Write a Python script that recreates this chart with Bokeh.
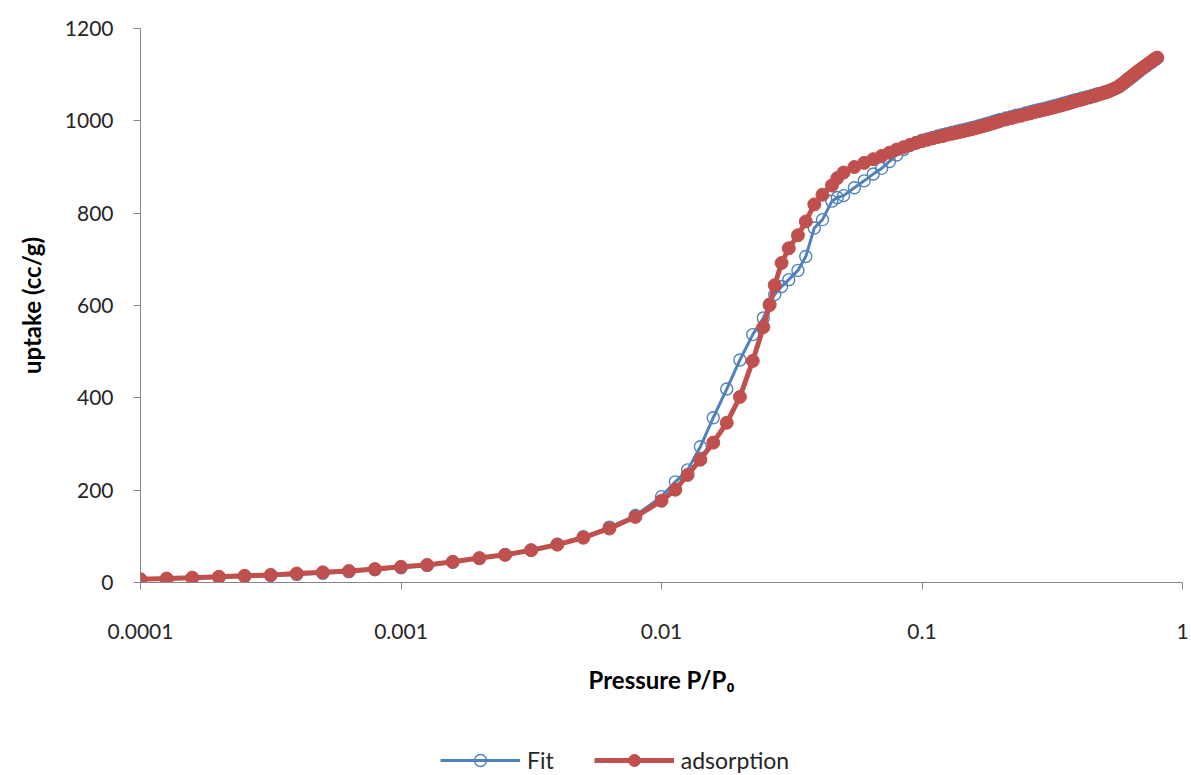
from bokeh.plotting import figure
from bokeh.layouts import column
from bokeh.models import Range1d, FixedTicker, CustomJSTickFormatter, Legend, LegendItem, ColumnDataSource
from bokeh.embed import file_html
from bokeh.resources import INLINE

# Relative pressure P/P0
pressure = [
    0.0001, 0.000126, 0.000158, 0.0002, 0.000251, 0.000316, 0.000398, 0.000501, 0.000631, 0.000794,
    0.001, 0.00126, 0.00158, 0.002, 0.00251, 0.00316, 0.00398, 0.00501, 0.00631, 0.00794, 0.01,
    0.0113, 0.0126, 0.0141, 0.0158, 0.0178, 0.0200, 0.0224, 0.0246, 0.0260, 0.0272, 0.0289, 0.0308,
    0.0334, 0.0358, 0.0386, 0.0415, 0.0451, 0.0473,
    0.050, 0.055, 0.060, 0.065, 0.070, 0.075, 0.080, 0.085, 0.090, 0.095, 0.100,
    0.105, 0.110, 0.115, 0.120, 0.125, 0.130, 0.135, 0.140, 0.145, 0.150,
    0.155, 0.160, 0.165, 0.170, 0.175, 0.180, 0.185, 0.190, 0.195, 0.200,
    0.21, 0.22, 0.23, 0.24, 0.25, 0.26, 0.27, 0.28, 0.29, 0.30,
    0.31, 0.32, 0.33, 0.34, 0.35, 0.36, 0.37, 0.38, 0.39, 0.40,
    0.41, 0.42, 0.43, 0.44, 0.45, 0.46, 0.47, 0.48, 0.49, 0.50,
    0.51, 0.52, 0.53, 0.54, 0.55, 0.56, 0.57, 0.58, 0.59, 0.60,
    0.61, 0.62, 0.63, 0.64, 0.65, 0.66, 0.67, 0.68, 0.69, 0.70,
    0.71, 0.72, 0.73, 0.74, 0.75, 0.76, 0.77, 0.78, 0.79, 0.80,
]

# Measured adsorption uptake (cc/g)
adsorption = [
    7, 8.5, 10.5, 12.5, 14.5, 16.5, 19.5, 22, 25, 29,
    34, 38, 45, 53, 60, 70, 82, 97, 117, 142, 177,
    201, 233, 266, 303, 346, 402, 480, 553, 601, 644, 692, 724,
    752, 782, 819, 840, 860, 876,
    888, 900, 909, 917, 924, 931, 938, 943, 948, 952, 956,
    959, 962, 965, 967, 970, 972, 974, 976, 978, 980,
    982, 984, 986, 988, 990, 992, 994, 996, 998, 1000,
    1003, 1006, 1009, 1011, 1014, 1016, 1019, 1021, 1023, 1025,
    1027, 1029, 1031, 1033, 1035, 1037, 1039, 1041, 1043, 1045,
    1046, 1048, 1050, 1051, 1053, 1054, 1056, 1058, 1059, 1061,
    1062, 1064, 1066, 1068, 1070, 1072, 1075, 1078, 1081, 1084,
    1088, 1091, 1094, 1097, 1100, 1103, 1106, 1109, 1111, 1114,
    1116, 1119, 1121, 1124, 1126, 1128, 1131, 1133, 1135, 1137,
]

# Model fit uptake (cc/g)
fit = [
    6, 7.5, 9, 11, 13, 15, 17.5, 20, 23.5, 27.5,
    32, 37, 44, 52, 60, 70, 83, 99, 120, 145, 186,
    218, 244, 294, 357, 419, 482, 537, 573, 603, 624, 641, 656,
    676, 706, 768, 786, 826, 834,
    838, 855, 870, 885, 897, 912, 926, 938, 947, 953, 958,
    961, 964, 967, 970, 972, 975, 977, 979, 981, 983,
    985, 987, 989, 991, 993, 995, 997, 999, 1001, 1003,
    1006, 1009, 1012, 1014, 1017, 1019, 1022, 1024, 1026, 1028,
    1030, 1032, 1034, 1036, 1038, 1040, 1042, 1044, 1046, 1047,
    1049, 1050, 1052, 1053, 1055, 1056, 1058, 1059, 1060, 1062,
    1063, 1065, 1066, 1068, 1070, 1072, 1074, 1077, 1080, 1083,
    1086, 1089, 1092, 1095, 1098, 1101, 1104, 1107, 1110, 1113,
    1115, 1118, 1120, 1123, 1125, 1127, 1130, 1132, 1134, 1136,
]

x_ticks = [0.0001, 0.001, 0.01, 0.1, 1]
y_ticks = [0, 200, 400, 600, 800, 1000, 1200]
series_names = ["Fit", "adsorption"]

FONT = "Lato"
BLUE = "#4F81BD"
RED = "#C0504D"

src = ColumnDataSource(dict(p=pressure, ads=adsorption, fit=fit))

p = figure(width=1191, height=738, x_axis_type="log",
           x_range=Range1d(0.0001, 1), y_range=Range1d(0, 1200),
           output_backend="svg", toolbar_location=None,
           min_border_left=140, min_border_right=9, min_border_top=28, min_border_bottom=156)
p.outline_line_color = None
p.grid.visible = False
p.background_fill_color = "white"
p.border_fill_color = "white"

fit_style = dict(line_color=BLUE, line_width=3)
fit_mark = dict(marker="circle", size=12, fill_color=None, line_color=BLUE, line_width=1.4)
ads_style = dict(line_color=RED, line_width=5)
ads_mark = dict(marker="circle", size=13, fill_color=RED, line_color=RED, line_width=1)

p.line("p", "fit", source=src, **fit_style)
p.scatter("p", "fit", source=src, **fit_mark)
p.line("p", "ads", source=src, **ads_style)
p.scatter("p", "ads", source=src, **ads_mark)

# axes
for ax in (p.xaxis[0], p.yaxis[0]):
    ax.axis_line_color = "#868686"
    ax.axis_line_width = 1
    ax.major_tick_line_color = "#868686"
    ax.major_tick_out = 7
    ax.major_tick_in = 0
    ax.minor_tick_line_color = None
    ax.major_label_text_font = FONT
    ax.major_label_text_font_size = "21px"
    ax.major_label_text_color = "#262626"
    ax.axis_label_text_font = FONT
    ax.axis_label_text_font_size = "24px"
    ax.axis_label_text_font_style = "bold"
    ax.axis_label_text_color = "black"

p.xaxis[0].ticker = FixedTicker(ticks=x_ticks)
p.xaxis[0].formatter = CustomJSTickFormatter(code="return String(tick);")
p.xaxis[0].major_label_standoff = 34
p.xaxis[0].axis_label = "Pressure P/P\u2080"
p.xaxis[0].axis_label_standoff = 23

p.yaxis[0].ticker = FixedTicker(ticks=y_ticks)
p.yaxis[0].major_label_standoff = 20
p.yaxis[0].axis_label = "uptake (cc/g)"
p.yaxis[0].axis_label_standoff = 16

# legend strip below the chart (renderers hold a single NaN so only the legend glyphs show)
nan = float("nan")
lg = figure(width=1191, height=37, output_backend="svg", toolbar_location=None,
            x_range=Range1d(0, 1), y_range=Range1d(0, 1),
            min_border_left=0, min_border_right=0, min_border_top=0, min_border_bottom=0)
lg.axis.visible = False
lg.grid.visible = False
lg.outline_line_color = None
lg.border_fill_color = "white"
f_l = lg.line([nan], [nan], **fit_style)
f_m = lg.scatter([nan], [nan], **fit_mark)
a_l = lg.line([nan], [nan], **ads_style)
a_m = lg.scatter([nan], [nan], **ads_mark)
legend = Legend(items=[LegendItem(label=series_names[0], renderers=[f_l, f_m]),
                       LegendItem(label=series_names[1], renderers=[a_l, a_m])],
                location=(300, 0), orientation="horizontal",
                glyph_width=80, glyph_height=30, label_standoff=7, spacing=40,
                padding=0, margin=0, border_line_color=None, background_fill_alpha=0,
                label_text_font=FONT, label_text_font_size="23px", label_text_color="#262626")
lg.add_layout(legend, "center")

layout = column(p, lg, spacing=0)
open("out.html", "w").write(file_html(layout, INLINE))
